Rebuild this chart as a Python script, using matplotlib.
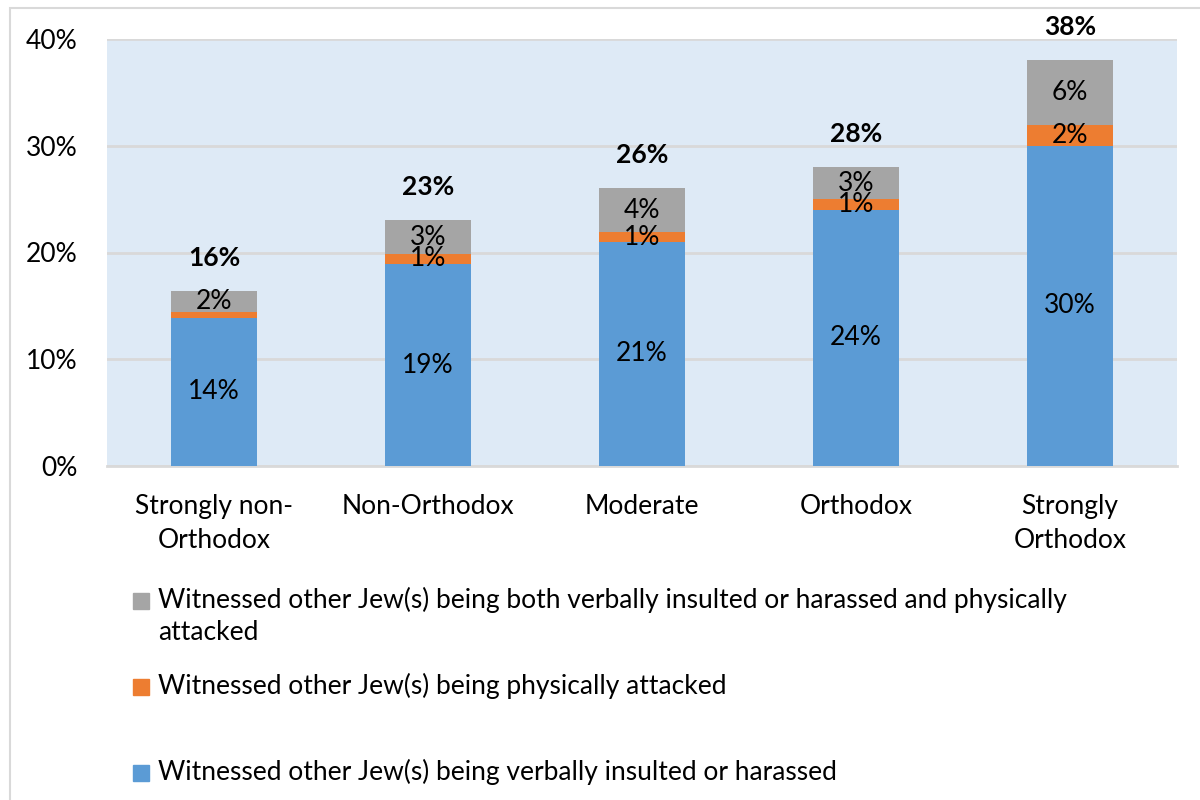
import matplotlib
matplotlib.use("Agg")
import matplotlib.pyplot as plt
from matplotlib.patches import Rectangle

plt.rcParams['font.family'] = ['Lato', 'DejaVu Sans']

categories = ["Strongly non-\nOrthodox", "Non-Orthodox", "Moderate", "Orthodox", "Strongly\nOrthodox"]
verbal = [13.9, 18.9, 21.0, 24.0, 30.0]
physical = [0.5, 1.0, 0.9, 1.0, 1.9]
both = [2.0, 3.1, 4.1, 3.0, 6.1]
series_names = [
    "Witnessed other Jew(s) being both verbally insulted or harassed and physically\nattacked",
    "Witnessed other Jew(s) being physically attacked",
    "Witnessed other Jew(s) being verbally insulted or harassed",
]
yticks = [0, 10, 20, 30, 40]

c_blue, c_orange, c_gray = "#5B9BD5", "#ED7D31", "#A5A5A5"

fig = plt.figure(figsize=(12, 8), dpi=100)
ax = fig.add_axes([107/1200, 1 - 466/800, 1070/1200, 427/800])
ax.set_facecolor("#DEEAF6")

x = list(range(len(categories)))
w = 0.4
ax.bar(x, verbal, w, color=c_blue, zorder=3)
ax.bar(x, physical, w, bottom=verbal, color=c_orange, zorder=3)
b2 = [v + p for v, p in zip(verbal, physical)]
ax.bar(x, both, w, bottom=b2, color=c_gray, zorder=3)

fs = 19
for i in x:
    ax.text(i, verbal[i] / 2, f"{round(verbal[i])}%", ha='center', va='center', fontsize=fs, zorder=4)
    if physical[i] >= 0.75:
        ax.text(i, verbal[i] + physical[i] / 2, f"{round(physical[i])}%", ha='center', va='center', fontsize=fs, zorder=4)
    ax.text(i, b2[i] + both[i] / 2, f"{round(both[i])}%", ha='center', va='center', fontsize=fs, zorder=4)
    tot = verbal[i] + physical[i] + both[i]
    ax.annotate(f"{round(tot)}%", (i, tot), xytext=(0, 24), textcoords='offset points',
                ha='center', va='center', fontsize=fs, fontweight='bold', zorder=4,
                annotation_clip=False)

ax.set_xlim(-0.5, 4.5)
ax.set_ylim(0, 40)
ax.set_yticks(yticks)
ax.set_yticklabels([f"{t}%" for t in yticks], fontsize=fs)
ax.set_xticks(x)
ax.set_xticklabels(categories, fontsize=fs, linespacing=1.45)
ax.tick_params(axis='both', length=0)
ax.tick_params(axis='y', pad=21)
ax.tick_params(axis='x', pad=20)
ax.grid(axis='y', color="#D9D9D9", linewidth=2, zorder=0)
for s in ['left', 'right', 'top']:
    ax.spines[s].set_visible(False)
ax.spines['bottom'].set_color("#D9D9D9")
ax.spines['bottom'].set_linewidth(2)

# chart frame
fig.patches.append(Rectangle((10/1200, -0.01), 1.1, (800 - 8)/800 + 0.01, transform=fig.transFigure,
                             fill=False, edgecolor="#D9D9D9", linewidth=1.5))

# legend (manual, uneven spacing like original)
leg = [(c_gray, 601), (c_orange, 687), (c_blue, 773)]
for (col, ypx), name in zip(leg, series_names):
    fig.patches.append(Rectangle((133/1200, 1 - (ypx + 8)/800), 16/1200, 16/800,
                                 transform=fig.transFigure, color=col))
    fig.text(158/1200, 1 - (ypx - 14)/800, name, fontsize=fs, va='top', ha='left', linespacing=1.35)

fig.savefig("out.png", dpi=100)
